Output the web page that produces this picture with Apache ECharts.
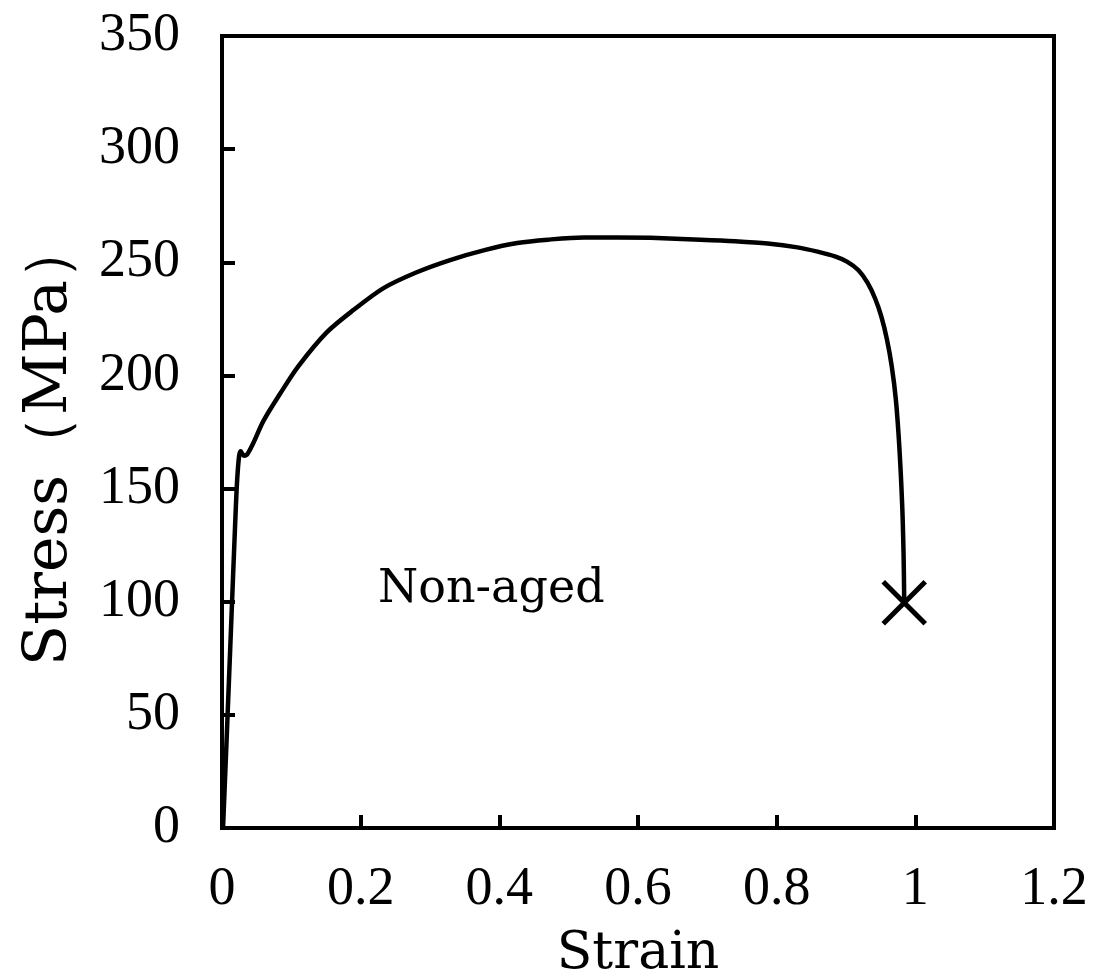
<!DOCTYPE html>
<html>
<head>
<meta charset="utf-8">
<script src="https://cdn.jsdelivr.net/npm/echarts@6/dist/echarts.min.js"></script>
<style>
html,body{margin:0;padding:0;background:#fff;}
#chart{width:1101px;height:975px;}
</style>
</head>
<body>
<div id="chart"></div>
<script>
// Strain values (x) and Stress values in MPa (y)
const strain = [0.0015,0.006,0.010,0.014,0.018,0.021,0.023,0.025,0.027,0.029,0.032,0.036,0.040,0.045,0.060,0.084,0.110,0.151,0.190,0.233,0.280,0.329,0.380,0.426,0.470,0.522,0.570,0.618,0.690,0.740,0.787,0.830,0.859,0.885,0.902,0.918,0.931,0.942,0.951,0.959,0.966,0.972,0.977,0.981,0.983,0.984];
const stress = [0,34,65,96,127,149,159,165,166.5,165.5,164.5,165,167,170,180,192,204,219,229,238.6,245.5,251,255.5,258.5,260,261,261,260.8,260,259.3,258.3,256.6,254.7,252.5,250.2,246.5,241,234,226,216,204,189,168,143,121.5,99.5];
// Fracture point marker
const fracture = [0.984, 99.5];
// Annotation
const annotationText = 'Non-aged';
const annotationPos = [0.225, 106.5];
// Axis settings
const xTicks = {min: 0, max: 1.2, interval: 0.2};
const yTicks = {min: 0, max: 350, interval: 50};
const xName = 'Strain';
const yName = 'Stress（MPa）';

const curve = strain.map((s, i) => [s, stress[i]]);

const chart = echarts.init(document.getElementById('chart'));
const tickFont = {fontFamily: 'Liberation Serif', fontSize: 54, color: '#000'};
const nameFont = {fontFamily: 'DejaVu Serif', color: '#000'};

chart.setOption({
  animation: false,
  backgroundColor: '#fff',
  grid: {left: 222, right: 47, top: 36, bottom: 147, containLabel: false, outerBoundsMode: 'none',
    show: true, borderColor: '#000', borderWidth: 4, backgroundColor: 'transparent'},
  xAxis: {
    type: 'value', min: xTicks.min, max: xTicks.max, interval: xTicks.interval,
    name: xName, nameLocation: 'middle', nameGap: 100,
    nameTextStyle: Object.assign({fontSize: 52}, nameFont),
    axisLine: {show: true, lineStyle: {color: '#000', width: 4}},
    axisTick: {show: true, inside: true, length: 13, lineStyle: {color: '#000', width: 4}},
    axisLabel: Object.assign({margin: 35}, tickFont),
    splitLine: {show: false}
  },
  yAxis: {
    type: 'value', min: yTicks.min, max: yTicks.max, interval: yTicks.interval,
    name: yName, nameLocation: 'middle', nameGap: 142, nameRotate: 90,
    nameTextStyle: Object.assign({fontSize: 60, padding: [0, 22, 0, 0]}, nameFont),
    axisLine: {show: true, lineStyle: {color: '#000', width: 4}},
    axisTick: {show: true, inside: true, length: 13, lineStyle: {color: '#000', width: 4}},
    axisLabel: Object.assign({margin: 42}, tickFont),
    splitLine: {show: false}
  },
  series: [
    {
      type: 'line', data: curve, showSymbol: false, symbol: 'none',
      lineStyle: {color: '#000', width: 4.5}, smooth: 0.3, z: 3
    },
    {
      type: 'scatter', data: [fracture],
      symbol: 'path://M0,0 L10,10 M10,0 L0,10', symbolSize: 42,
      itemStyle: {color: 'transparent', borderColor: '#000', borderWidth: 5, opacity: 1},
      z: 4
    }
  ]
});

const p = chart.convertToPixel({gridIndex: 0}, annotationPos);
chart.setOption({
  graphic: [{
    type: 'text', left: p[0], top: p[1] - 20,
    style: {text: annotationText, fontFamily: 'DejaVu Serif', fontSize: 46, fill: '#000'}
  }]
});
</script>
</body>
</html>
